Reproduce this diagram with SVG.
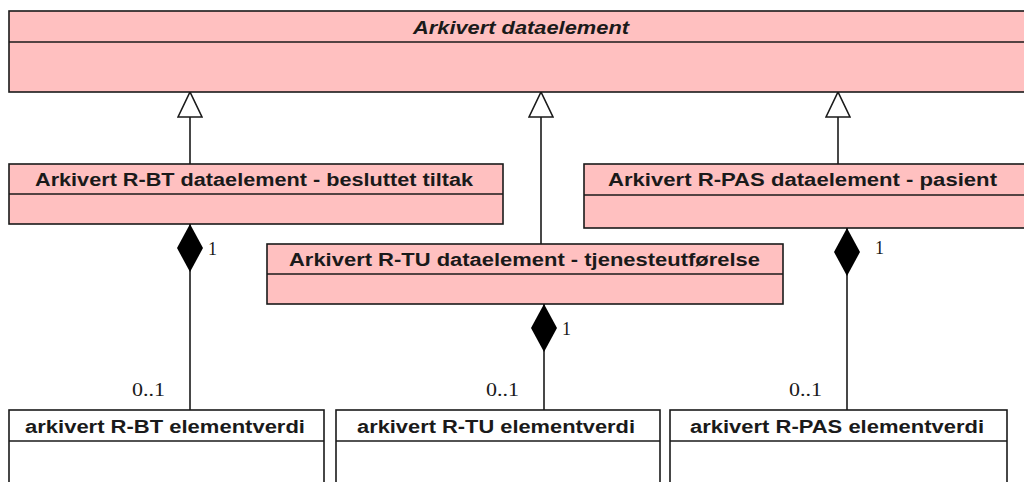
<svg xmlns="http://www.w3.org/2000/svg" width="1024" height="482" viewBox="0 0 1024 482">
<style>
.cls{fill:#FFC0C0;stroke:#1a1a1a;stroke-width:1.6}
.val{fill:#FFFFFF;stroke:#1a1a1a;stroke-width:1.6}
.name{font-family:"Liberation Sans",Arial,sans-serif;font-weight:bold;font-size:17.5px;fill:#1a1a1a}
.abs{font-style:italic}
.edge{fill:none;stroke:#1a1a1a;stroke-width:1.6}
.mult{font-family:"Liberation Serif","Times New Roman",serif;font-size:18px;fill:#1a1a1a}
</style>
<defs>
<marker id="gen" viewBox="0 0 26 26" refX="26" refY="13" markerWidth="26" markerHeight="26" markerUnits="userSpaceOnUse" orient="auto">
<path d="M1,1 L26,13 L1,25 Z" fill="#FFFFFF" stroke="#1a1a1a" stroke-width="1.6"/>
</marker>
<marker id="comp" viewBox="0 0 48 26" refX="48" refY="13" markerWidth="48" markerHeight="26" markerUnits="userSpaceOnUse" orient="auto">
<path d="M0,13 L24,0 L48,13 L24,26 Z" fill="#000000"/>
</marker>
</defs>
<g id="arkivert-dataelement">
<rect class="cls" x="9" y="11" width="1030" height="81"/>
<line class="edge" x1="9" y1="42" x2="1039" y2="42"/>
<text class="name abs" x="413" y="34" textLength="216" lengthAdjust="spacingAndGlyphs">Arkivert dataelement</text>
</g>
<g id="r-bt-dataelement">
<rect class="cls" x="9" y="164" width="494" height="60"/>
<line class="edge" x1="9" y1="194" x2="503" y2="194"/>
<text class="name" x="35" y="186" textLength="438" lengthAdjust="spacingAndGlyphs">Arkivert R-BT dataelement - besluttet tiltak</text>
</g>
<g id="r-tu-dataelement">
<rect class="cls" x="267" y="244" width="516" height="60"/>
<line class="edge" x1="267" y1="274" x2="783" y2="274"/>
<text class="name" x="289" y="266" textLength="471" lengthAdjust="spacingAndGlyphs">Arkivert R-TU dataelement - tjenesteutførelse</text>
</g>
<g id="r-pas-dataelement">
<rect class="cls" x="584" y="164" width="460" height="64"/>
<line class="edge" x1="584" y1="195" x2="1044" y2="195"/>
<text class="name" x="608" y="186" textLength="389" lengthAdjust="spacingAndGlyphs">Arkivert R-PAS dataelement - pasient</text>
</g>
<g id="r-bt-elementverdi">
<rect class="val" x="9" y="410" width="315" height="90"/>
<line class="edge" x1="9" y1="441" x2="324" y2="441"/>
<text class="name" x="25" y="433" textLength="280" lengthAdjust="spacingAndGlyphs">arkivert R-BT elementverdi</text>
</g>
<g id="r-tu-elementverdi">
<rect class="val" x="336" y="410" width="324" height="90"/>
<line class="edge" x1="336" y1="441" x2="660" y2="441"/>
<text class="name" x="357" y="433" textLength="278" lengthAdjust="spacingAndGlyphs">arkivert R-TU elementverdi</text>
</g>
<g id="r-pas-elementverdi">
<rect class="val" x="670" y="410" width="337" height="90"/>
<line class="edge" x1="670" y1="441" x2="1007" y2="441"/>
<text class="name" x="690" y="433" textLength="294" lengthAdjust="spacingAndGlyphs">arkivert R-PAS elementverdi</text>
</g>
<g id="connectors">
<path class="edge" d="M190,164 L190,92" marker-end="url(#gen)"/>
<path class="edge" d="M541,244 L541,92" marker-end="url(#gen)"/>
<path class="edge" d="M838,164 L838,92" marker-end="url(#gen)"/>
<path class="edge" d="M190,410 L190,224" marker-end="url(#comp)"/>
<path class="edge" d="M544,410 L544,304" marker-end="url(#comp)"/>
<path class="edge" d="M847,410 L847,228" marker-end="url(#comp)"/>
<text class="mult" x="208" y="255">1</text>
<text class="mult" x="562" y="335">1</text>
<text class="mult" x="875" y="254">1</text>
<text class="mult" x="132" y="396" textLength="33" lengthAdjust="spacingAndGlyphs">0..1</text>
<text class="mult" x="486" y="396" textLength="33" lengthAdjust="spacingAndGlyphs">0..1</text>
<text class="mult" x="789" y="396" textLength="33" lengthAdjust="spacingAndGlyphs">0..1</text>
</g>
</svg>
